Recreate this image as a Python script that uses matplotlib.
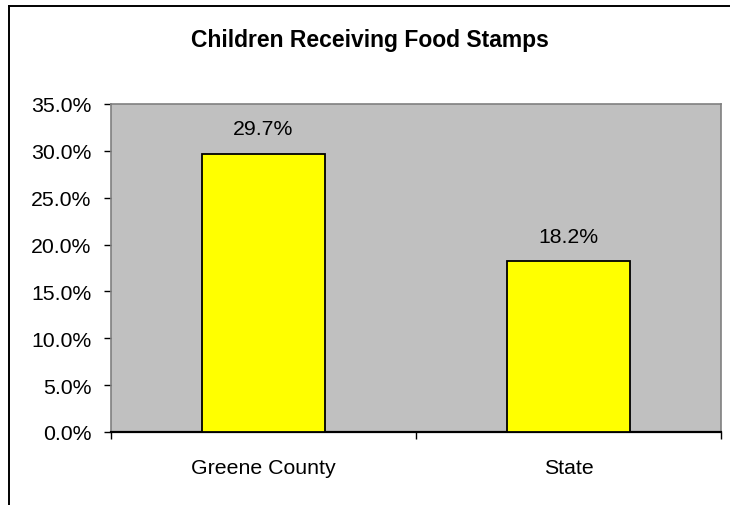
import matplotlib
matplotlib.use("Agg")
import matplotlib.pyplot as plt
from matplotlib.lines import Line2D
from matplotlib.ticker import FuncFormatter, FixedLocator

plt.rcParams['font.family'] = ['Liberation Sans', 'DejaVu Sans']

title = "Children Receiving Food Stamps"
categories = ["Greene County", "State"]
values = [29.7, 18.2]
y_ticks = [0, 5, 10, 15, 20, 25, 30, 35]

W, H = 730, 506
fig = plt.figure(figsize=(W / 100, H / 100), dpi=100)
fig.patch.set_facecolor("white")

# outer chart frame (top and left edges)
fig.add_artist(Line2D([9 / W, 1.0], [1 - 7 / H, 1 - 7 / H], transform=fig.transFigure,
                      color="black", lw=1.4))
fig.add_artist(Line2D([9 / W, 9 / W], [0.0, 1 - 7 / H], transform=fig.transFigure,
                      color="black", lw=1.4))

left, right, top, bottom = 111, 721, 105, 433
ax = fig.add_axes([left / W, 1 - bottom / H, (right - left) / W, (bottom - top) / H])
ax.set_facecolor("#c0c0c0")

x = list(range(len(categories)))
bars = ax.bar(x, values, width=0.405, color="#ffff00", edgecolor="black", linewidth=1.3,
              zorder=3)
for xi, v in zip(x, values):
    ax.annotate(f"{v:.1f}%", (xi, v), xytext=(0, 11), textcoords="offset points",
                ha="center", va="bottom", fontsize=15.3, color="black")

ax.set_xlim(-0.5, len(categories) - 0.5)
ax.set_ylim(0, 35)
ax.yaxis.set_major_locator(FixedLocator(y_ticks))
ax.yaxis.set_major_formatter(FuncFormatter(lambda v, p: f"{v:.1f}%"))
ax.tick_params(axis="y", direction="out", length=5, width=1, color="black",
               labelsize=15.3, pad=9)

# category labels centred under each bar, tick marks at category boundaries
ax.set_xticks(x)
ax.set_xticklabels(categories, fontsize=15.3)
ax.tick_params(axis="x", which="major", length=0, pad=19)
ax.set_xticks([i - 0.5 for i in range(len(categories) + 1)], minor=True)
ax.tick_params(axis="x", which="minor", direction="out", length=5, width=1, color="black")

for side in ("left", "right", "top"):
    ax.spines[side].set_color("#808080")
    ax.spines[side].set_linewidth(1.2)
ax.spines["bottom"].set_color("black")
ax.spines["bottom"].set_linewidth(1.6)

fig.text(370 / W, 1 - 40 / H, title, ha="center", va="center", fontsize=16.5,
         fontweight="bold")

fig.savefig("out.png", dpi=100)
